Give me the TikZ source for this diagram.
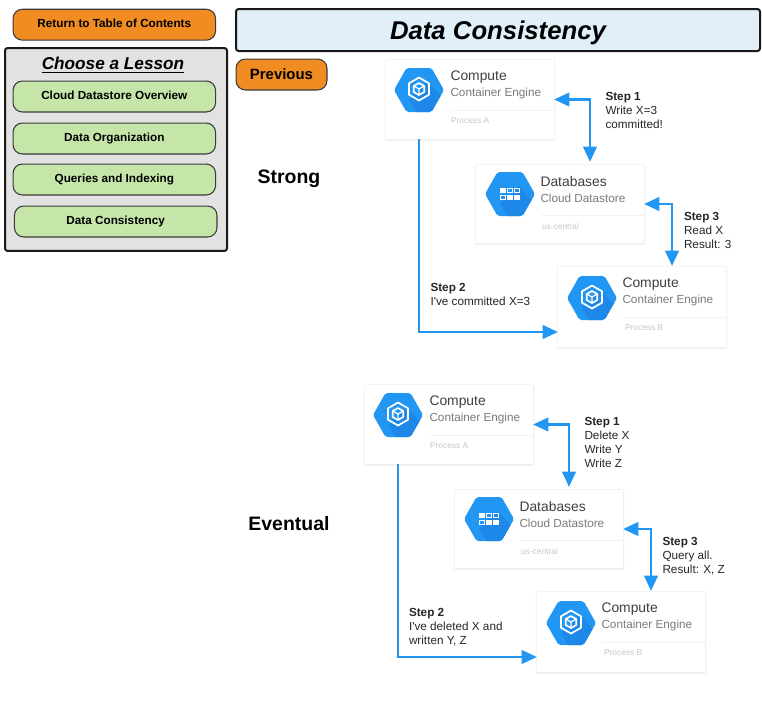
\documentclass[tikz,border=0pt]{standalone}
\usepackage{fontspec}
\setmainfont[Ligatures=TeXOff]{Liberation Sans}
\usetikzlibrary{arrows.meta,calc}
\definecolor{gblue}{HTML}{2196F3}
\definecolor{gbluedark}{HTML}{1D88E8}
\definecolor{orangebtn}{HTML}{F08C22}
\definecolor{greenbtn}{HTML}{C6E6A9}
\definecolor{panelgray}{HTML}{E2E2E2}
\definecolor{titleblue}{HTML}{E1EFF9}
\definecolor{edgegray}{HTML}{3A3A3A}
\newcommand{\btxt}[1]{\raisebox{-2.3pt}[0pt][0pt]{#1}}
\tikzset{
  x=0.75pt,y=-0.75pt,
  every node/.style={inner sep=0pt,outer sep=0pt},
  btn/.style={draw=edgegray,line width=0.8pt,rounded corners=7pt,minimum height=23.2pt,font=\fontsize{8.8}{10}\selectfont\bfseries},
  orangebox/.style={btn,fill=orangebtn},
  greenbox/.style={btn,fill=greenbtn,minimum width=151.9pt},
  card/.style={fill=white,draw=none,minimum width=126pt,anchor=north west},
  cardshadow/.style={fill=black,opacity=0.02,rounded corners=1.5pt},
  cardtitle/.style={anchor=west,text=black!75,font=\fontsize{10.4}{12}\selectfont},
  cardsub/.style={anchor=west,text=black!52,font=\fontsize{8.8}{10}\selectfont},
  cardfoot/.style={anchor=west,text=black!22,font=\fontsize{6.3}{8}\selectfont},
  steptext/.style={anchor=north west,align=left,text=black!85,font=\fontsize{8.8}{10.5}\selectfont},
  flow/.style={draw=gblue,line width=2.2pt,{Triangle[length=11.5pt,width=10pt]}-{Triangle[length=11.5pt,width=10pt]}},
  flowone/.style={draw=gblue,line width=2.2pt,-{Triangle[length=11.5pt,width=10pt]}},
  heading/.style={font=\fontsize{14.6}{18}\selectfont\bfseries},
  whiteline/.style={draw=white,line width=1.3pt,line join=round},
  sqline/.style={draw=white,line width=0.7pt},
}
% hexagon background at (0,0)
\newcommand{\hexbg}{%
  \begin{scope}
    \clip[rounded corners=1.5pt] (-25,0)--(-12.5,-22)--(12.5,-22)--(25,0)--(12.5,22)--(-12.5,22)--cycle;
    \fill[gblue] (-26,-23) rectangle (26,23);
    \fill[gbluedark] (8,-8)--(26,10)--(26,23)--(-2,23)--(-10,10)--cycle;
  \end{scope}}
\newcommand{\containericon}{%
  \hexbg
  \begin{scope}[yshift=0.75pt]
  \draw[whiteline] (0,-11.5)--(10,-5.7)--(10,5.7)--(0,11.5)--(-10,5.7)--(-10,-5.7)--cycle;
  \draw[whiteline] (0,-6)--(5.2,-3)--(5.2,3)--(0,6)--(-5.2,3)--(-5.2,-3)--cycle;
  \draw[whiteline,line width=0.9pt] (-5.2,-3)--(0,0)--(5.2,-3) (0,0)--(0,6);
  \end{scope}}
\newcommand{\datastoreicon}{%
  \hexbg
  \foreach \cx/\cy in {-7/-3.5,7/3.5,0/3.5}{
    \fill[white] (\cx-2.6,\cy-2.6) rectangle (\cx+2.6,\cy+2.6);}
  \foreach \cx/\cy in {0/-3.5,7/-3.5,-7/3.5}{
    \draw[sqline] (\cx-2.2,\cy-2.2) rectangle (\cx+2.2,\cy+2.2);}}
% name, left, top, height, title, subtitle, footer, icon, icon position
\newcommand{\gcard}[9]{%
  \begin{scope}[shift={(#2,#3)}]
    \foreach \g in {0,1,2,3}{
      \fill[cardshadow] (-\g*0.5,-\g*0.4) rectangle (168+\g*0.5,#4+0.5+\g*0.7);}
    \node[card,minimum height=#4*0.75pt] (#1) at (0,0) {};
    \begin{scope}[shift={#9}] #8 \end{scope}
    \node[cardtitle] (#1t) at (64.5,17) {#5};
    \node[cardsub] (#1s) at (64.5,33.5) {#6};
    \draw[black!5,line width=0.4pt] (65,50)--(168,50);
    \node[cardfoot] (#1f) at (\footx,61) {#7};
  \end{scope}}
\newcommand{\flowdiagram}[3]{%
  \begin{scope}[shift={(#1,0)},yshift=-#2*0.75pt,name prefix=#3-]
    \def\footx{65}
    \gcard{a}{386}{60}{79}{Compute}{Container Engine}{Process A}{\containericon}{(33,30)}
    \def\footx{66}
    \gcard{d}{476}{165}{78}{Databases}{Cloud Datastore}{us-central}{\datastoreicon}{(34,29)}
    \def\footx{67}
    \gcard{b}{558}{267}{80}{Compute}{Container Engine}{Process B}{\containericon}{(34,31)}
    \coordinate (da) at ($(d.north)+(30,-3)$);
    \coordinate (bt) at ($(b.north)+(30,-1)$);
    \coordinate (as) at (419,139);
    \coordinate (bw) at (558,332);
    \draw[flow] (a.east) -| (da);
    \draw[flow] (d.east) -| (bt);
    \draw[flowone] (as) |- (bw);
  \end{scope}}
\begin{document}
\begin{tikzpicture}
\useasboundingbox (0,0) rectangle (762,725);
% left column
\node[orangebox,minimum width=151.9pt] (ret) at (114.3,24.7) {\btxt{Return to Table of Contents}};
\node[draw=black!90,line width=1.5pt,fill=panelgray,rounded corners=2pt,minimum width=166.5pt,minimum height=152.2pt] (panel) at (116,149.5) {};
\node[font=\fontsize{12.9}{16}\selectfont\bfseries\itshape] (lesson) at (113,65) {\underline{Choose a Lesson}};
\node[greenbox] (l1) at (114.3,96.5) {\btxt{Cloud Datastore Overview}};
\node[greenbox] (l2) at (114.3,138.5) {\btxt{Data Organization}};
\node[greenbox] (l3) at (114.3,179.5) {\btxt{Queries and Indexing}};
\node[greenbox] (l4) at (115.7,221.5) {\btxt{Data Consistency}};
% title
\node[draw=black!90,line width=1.5pt,fill=titleblue,rounded corners=2pt,minimum width=393pt,minimum height=31.5pt,font=\fontsize{19.3}{23}\selectfont\bfseries\itshape] (title) at (498,30) {\raisebox{-7pt}[0pt][0pt]{Data Consistency}};
\node[orangebox,minimum width=68.2pt,font=\fontsize{11.2}{13}\selectfont\bfseries] (prev) at (281.5,74.5) {\raisebox{-3.8pt}[0pt][0pt]{Previous}};
\node[heading] (strong) at (289,178.5) {Strong};
\node[heading] (eventual) at (289,523.5) {Eventual};
% diagrams
\flowdiagram{0}{0}{s}
\flowdiagram{-21}{325}{e}
% labels: strong
\node[steptext] (s1) at (605.5,92.5) {\textbf{Step 1}\\Write X=3\\committed!};
\node[steptext] (s2) at (430.5,283.5) {\textbf{Step 2}\\I've committed X=3};
\node[steptext] (s3) at (684,212.5) {\textbf{Step 3}\\Read X\\Result: 3};
% labels: eventual
\node[steptext] (e1) at (584.5,417.5) {\textbf{Step 1}\\Delete X\\Write Y\\Write Z};
\node[steptext] (e2) at (409,608.5) {\textbf{Step 2}\\I've deleted X and\\written Y, Z};
\node[steptext] (e3) at (662.5,537.5) {\textbf{Step 3}\\Query all.\\Result: X, Z};
\end{tikzpicture}
\end{document}
